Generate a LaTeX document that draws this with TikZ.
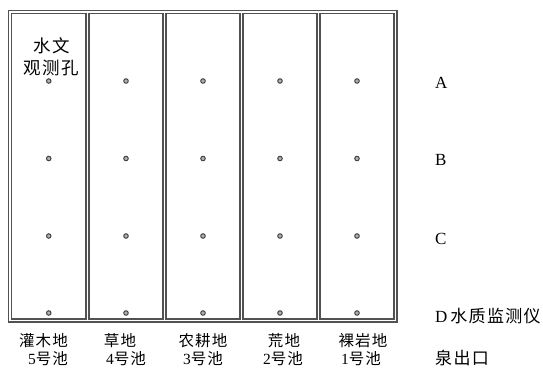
\documentclass[tikz,border=0pt]{standalone}
\usepackage{fontspec}
\setmainfont{Liberation Serif}
\newfontfamily\cjk{Noto Sans CJK SC}
\newfontfamily\cjkwide[LetterSpace=8]{Noto Sans CJK SC}
\begin{document}
\begin{tikzpicture}[x=1pt,y=-1pt,
  frameouter/.style={draw=black!68,line width=4.2pt,line join=miter},
  frameinner/.style={draw=white,line width=1.3pt,line join=miter},
  hole/.style={circle,draw=black!75,fill=black!30,line width=1pt,inner sep=0pt,minimum size=4.5pt},
  toplbl/.style={font=\fontsize{17.5}{20}\selectfont\cjkwide,inner sep=0pt,anchor=base},
  botlbl/.style={font=\fontsize{15.5}{18}\selectfont,inner sep=0pt,anchor=base},
  row/.style={font=\fontsize{17}{20}\selectfont,inner sep=0pt,anchor=base west}]
\useasboundingbox (0,0) rectangle (543,368);
% frame coordinates
\coordinate (tl) at (10,12);
\coordinate (br) at (395.5,320.5);
\foreach \x [count=\i] in {87.5,164.5,241.5,318.5}{
  \coordinate (dt\i) at (\x,12);
  \coordinate (db\i) at (\x,320.5);
}
\draw[frameouter] (tl) rectangle (br);
\foreach \i in {1,...,4}{\draw[frameouter] (dt\i) -- (db\i);}
\draw[frameinner] (tl) rectangle (br);
\foreach \i in {1,...,4}{\draw[frameinner] (dt\i) -- (db\i);}
% holes
\foreach \x [count=\c] in {48.75,126,203,280,357}{
  \foreach \y [count=\r] in {81,158.5,236,313}{
    \node[hole] (h\c\r) at (\x,\y) {};
  }
}
% labels
\node[toplbl] (sw1) at (51.5,52) {水文};
\node[toplbl] (sw2) at (51.5,74) {观测孔};
\node[row] (A) at (435,88) {A};
\node[row] (B) at (435,165) {B};
\node[row] (C) at (435,244) {C};
\node[row] (D) at (435,322) {D\,\cjkwide 水质监测仪};
\node[row] (Q) at (435,364) {\cjkwide 泉出口};
\foreach \x/\xx/\a/\b [count=\c] in {43.5/48/灌木地/5,120/126/草地/4,203/203/农耕地/3,284/283/荒地/2,363/361/裸岩地/1}{
  \node[botlbl] (p\c) at (\x,346) {\cjkwide \a};
  \node[botlbl] (n\c) at (\xx,364.5) {\b{\cjkwide 号池}};
}
\end{tikzpicture}
\end{document}
